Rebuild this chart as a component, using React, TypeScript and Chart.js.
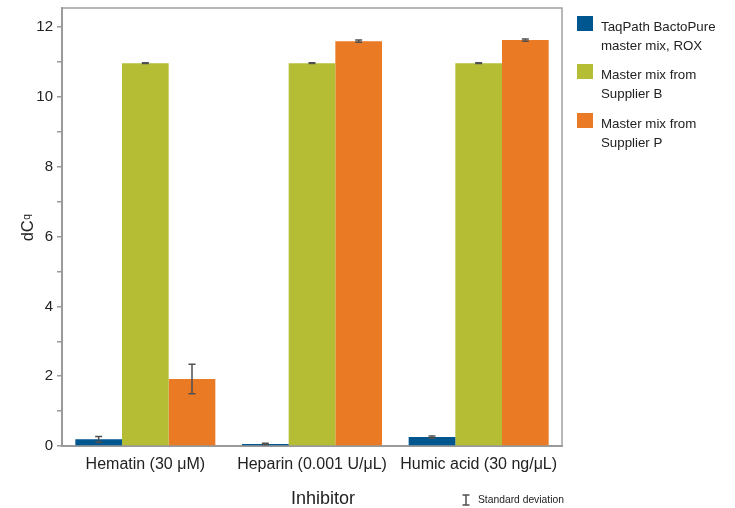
import React, { useEffect, useRef } from "react";
import { Chart, registerables } from "chart.js";

Chart.register(...registerables);

const FONT = "'Liberation Sans', Arial, Helvetica, sans-serif";

const categories = ["Hematin (30 μM)", "Heparin (0.001 U/μL)", "Humic acid (30 ng/μL)"];
const seriesNames = [
  "TaqPath BactoPure master mix, ROX",
  "Master mix from Supplier B",
  "Master mix from Supplier P",
];
const legendLines = [
  ["TaqPath BactoPure", "master mix, ROX"],
  ["Master mix from", "Supplier B"],
  ["Master mix from", "Supplier P"],
];
const taqPathValues = [0.19, 0.06, 0.26];
const taqPathSD = [0.08, 0.02, 0.03];
const supplierBValues = [10.97, 10.97, 10.97];
const supplierBSD = [0.01, 0.01, 0.01];
const supplierPValues = [1.92, 11.6, 11.63];
const supplierPSD = [0.42, 0.03, 0.03];
const yMajorTicks = [0, 2, 4, 6, 8, 10, 12];
const yMinorTicks = [1, 3, 5, 7, 9, 11];
const seriesColors = ["#00568f", "#b5bd35", "#eb7a24"];
const seriesSD = [taqPathSD, supplierBSD, supplierPSD];
const yTitle = "dC";
const yTitleSub = "q";
const xTitle = "Inhibitor";
const sdNote = "Standard deviation";

const errorBarPlugin = {
  id: "errorBars",
  afterDatasetsDraw(chart: any) {
    const ctx = chart.ctx;
    const yScale = chart.scales.y;
    ctx.save();
    ctx.strokeStyle = "#505050";
    ctx.lineWidth = 1.5;
    chart.data.datasets.forEach((ds: any, di: number) => {
      const meta = chart.getDatasetMeta(di);
      const sd = seriesSD[di];
      meta.data.forEach((bar: any, i: number) => {
        const v = ds.data[i];
        const e = sd[i];
        const yTop = yScale.getPixelForValue(v + e);
        const yBot = yScale.getPixelForValue(Math.max(0, v - e));
        const x = bar.x;
        const cw = 3.5;
        ctx.beginPath();
        ctx.moveTo(x, yTop);
        ctx.lineTo(x, yBot);
        ctx.moveTo(x - cw, yTop);
        ctx.lineTo(x + cw, yTop);
        ctx.moveTo(x - cw, yBot);
        ctx.lineTo(x + cw, yBot);
        ctx.stroke();
      });
    });
    ctx.restore();
  },
};

const decorPlugin = {
  id: "decor",
  afterDraw(chart: any) {
    const ctx = chart.ctx;
    const a = chart.chartArea;
    ctx.save();
    ctx.strokeStyle = "#a0a0a0";
    ctx.lineWidth = 1.5;
    ctx.beginPath();
    ctx.moveTo(a.left, a.top);
    ctx.lineTo(a.right, a.top);
    ctx.lineTo(a.right, a.bottom);
    ctx.stroke();

    ctx.fillStyle = "#222222";
    ctx.translate(33, 228);
    ctx.rotate(-Math.PI / 2);
    ctx.font = `16.5px ${FONT}`;
    const w1 = ctx.measureText(yTitle).width;
    ctx.font = `10px ${FONT}`;
    const w2 = ctx.measureText(yTitleSub).width;
    const start = -(w1 + w2) / 2;
    ctx.textBaseline = "alphabetic";
    ctx.textAlign = "left";
    ctx.font = `16.5px ${FONT}`;
    ctx.fillText(yTitle, start, 0);
    ctx.font = `10px ${FONT}`;
    ctx.fillText(yTitleSub, start + w1 + 0.5, -3);
    ctx.restore();

    ctx.save();
    ctx.fillStyle = "#222222";
    ctx.font = `18px ${FONT}`;
    ctx.textAlign = "center";
    ctx.textBaseline = "alphabetic";
    ctx.fillText(xTitle, 323, 504);

    ctx.strokeStyle = "#505050";
    ctx.lineWidth = 1.5;
    ctx.beginPath();
    ctx.moveTo(466, 495);
    ctx.lineTo(466, 505);
    ctx.moveTo(462.5, 495);
    ctx.lineTo(469.5, 495);
    ctx.moveTo(462.5, 505);
    ctx.lineTo(469.5, 505);
    ctx.stroke();
    ctx.font = `10.3px ${FONT}`;
    ctx.textAlign = "left";
    ctx.fillText(sdNote, 478, 503);

    const boxTops = [16, 64, 113];
    ctx.font = `13.3px ${FONT}`;
    ctx.textBaseline = "middle";
    legendLines.forEach((lines, i) => {
      ctx.fillStyle = seriesColors[i];
      ctx.fillRect(577, boxTops[i], 16, 15);
      ctx.fillStyle = "#222222";
      lines.forEach((t, j) => {
        ctx.fillText(t, 601, boxTops[i] + 11 + j * 19);
      });
    });
    ctx.restore();
  },
};

export default function App() {
  const ref = useRef<HTMLCanvasElement | null>(null);

  useEffect(() => {
    if (!ref.current) return;
    Chart.defaults.font.family = FONT;
    const valueSets = [taqPathValues, supplierBValues, supplierPValues];
    const chart = new Chart(ref.current, {
      type: "bar",
      data: {
        labels: categories,
        datasets: valueSets.map((vals, di) => ({
          label: seriesNames[di],
          data: vals,
          backgroundColor: seriesColors[di],
          borderWidth: 0,
          categoryPercentage: 0.84,
          barPercentage: 1,
        })),
      },
      options: {
        responsive: false,
        animation: false,
        layout: { padding: { top: 8, right: 173, left: 0, bottom: 0 } },
        plugins: { legend: { display: false }, tooltip: { enabled: false } },
        scales: {
          x: {
            type: "category",
            afterFit: (s: any) => {
              s.height = 62;
              s.paddingLeft = 0;
              s.paddingRight = 0;
            },
            grid: { display: false, drawTicks: false },
            border: { display: true, color: "#9a9a9a", width: 2 },
            ticks: {
              font: { size: 16, family: FONT },
              color: "#222222",
              padding: 9,
              maxRotation: 0,
              autoSkip: false,
            },
          },
          y: {
            type: "linear",
            min: 0,
            max: 12.55,
            afterBuildTicks: (s: any) => {
              s.ticks = [...yMajorTicks, ...yMinorTicks]
                .sort((p, q) => p - q)
                .map((v) => ({ value: v }));
            },
            afterFit: (s: any) => {
              s.width = 62;
              s.paddingTop = 0;
              s.paddingBottom = 0;
            },
            grid: {
              drawOnChartArea: false,
              drawTicks: true,
              tickLength: 5,
              color: "#9a9a9a",
              lineWidth: 1.5,
            },
            border: { display: true, color: "#9a9a9a", width: 2 },
            ticks: {
              callback: (v: any) => (yMajorTicks.includes(v) ? String(v) : ""),
              font: { size: 15, family: FONT },
              color: "#222222",
              padding: 4,
              autoSkip: false,
            },
          },
        },
      },
      plugins: [errorBarPlugin, decorPlugin],
    } as any);
    return () => chart.destroy();
  }, []);

  return (
    <div style={{ position: "fixed", left: 0, top: 0, width: 735, height: 508, background: "#ffffff" }}>
      <canvas ref={ref} width={735} height={508} style={{ width: 735, height: 508, display: "block" }} />
    </div>
  );
}
